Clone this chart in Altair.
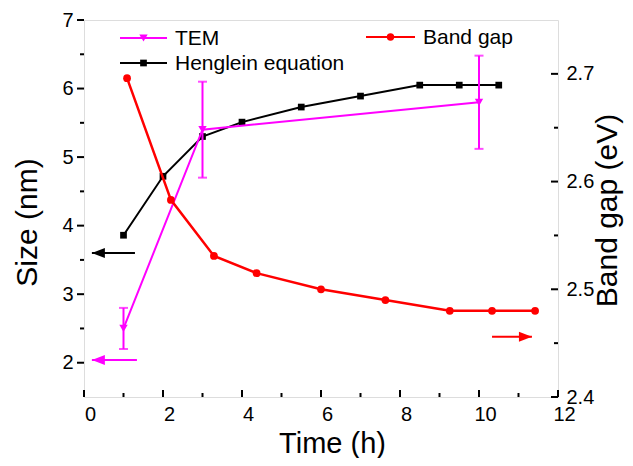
import altair as alt
import pandas as pd

# ---- data ----
tem_x = [1.0, 3.0, 10.0]
tem_y = [2.5, 5.4, 5.8]
tem_err = [0.3, 0.7, 0.68]

hen_x = [1.0, 2.0, 3.0, 4.0, 5.5, 7.0, 8.5, 9.5, 10.5]
hen_y = [3.86, 4.72, 5.30, 5.51, 5.73, 5.89, 6.05, 6.05, 6.05]

bg_x = [1.09, 2.2, 3.29, 4.37, 6.0, 7.63, 9.26, 10.33, 11.42]
bg_y = [2.696, 2.583, 2.531, 2.515, 2.500, 2.490, 2.480, 2.480, 2.480]

# arrows (tail x, tip x, y) in data units
black_arrow = [1.29, 0.2, 3.6]
pink_arrow = [1.34, 0.2, 2.04]
red_arrow = [10.33, 11.34, 2.456]

x_major = [0, 2, 4, 6, 8, 10, 12]
x_minor = [1, 3, 5, 7, 9, 11]
yl_major = [2, 3, 4, 5, 6, 7]
yl_minor = [2.5, 3.5, 4.5, 5.5, 6.5]
yr_major = [2.4, 2.5, 2.6, 2.7]
yr_minor = [2.45, 2.55, 2.65]

W, H = 474, 377
FONT = "Liberation Sans"
MAG = "#ff00ff"
RED = "#ff0000"

xs = alt.Scale(domain=[0, 12], nice=False, zero=False)
yls = alt.Scale(domain=[1.5, 7], nice=False, zero=False)
yrs = alt.Scale(domain=[2.4, 2.75], nice=False, zero=False)

x_axis = alt.Axis(values=x_major, ticks=False, domain=False, grid=False,
                  labelFont=FONT, labelFontSize=20, labelColor="black",
                  labelPadding=7, labelOffset=6, labelFlush=False,
                  title="Time (h)", titleFont=FONT, titleFontSize=29,
                  titleFontWeight="normal", titleColor="black",
                  titleX=248, titleY=55, titleBaseline="alphabetic",
                  titleAlign="center")
yl_axis = alt.Axis(values=yl_major, ticks=False, domain=False, grid=False,
                   labelFont=FONT, labelFontSize=20, labelColor="black",
                   labelPadding=11, labelFlush=False, format="d",
                   title="Size (nm)", titleFont=FONT, titleFontSize=30,
                   titleFontWeight="normal", titleColor="black",
                   titleAngle=270, titleX=-48, titleY=202,
                   titleBaseline="alphabetic", titleAlign="center")
yr_axis = alt.Axis(values=yr_major, ticks=False, domain=False, grid=False,
                   orient="right",
                   labelFont=FONT, labelFontSize=20, labelColor="black",
                   labelPadding=8, labelFlush=False, format=".1f",
                   title="Band gap (eV)", titleFont=FONT, titleFontSize=30,
                   titleFontWeight="normal", titleColor="black",
                   titleAngle=270, titleX=58, titleY=190,
                   titleBaseline="alphabetic", titleAlign="center")

X = lambda f: alt.X(f, type="quantitative", scale=xs, axis=x_axis)
YL = lambda f: alt.Y(f, type="quantitative", scale=yls, axis=yl_axis)
YR = lambda f: alt.Y(f, type="quantitative", scale=yrs, axis=yr_axis)

tem = pd.DataFrame({"x": tem_x, "y": tem_y, "e": tem_err})
tem["lo"] = tem["y"] - tem["e"]
tem["hi"] = tem["y"] + tem["e"]
hen = pd.DataFrame({"x": hen_x, "y": hen_y})
bg = pd.DataFrame({"x": bg_x, "y": bg_y})

# ---- left (size) group ----
hen_line = alt.Chart(hen).mark_line(color="black", strokeWidth=2).encode(x=X("x"), y=YL("y"))
hen_pts = alt.Chart(hen).mark_point(shape="square", filled=True, color="black", size=45, opacity=1).encode(x=X("x"), y=YL("y"))

tem_line = alt.Chart(tem).mark_line(color=MAG, strokeWidth=2).encode(x=X("x"), y=YL("y"))
tem_bar = alt.Chart(tem).mark_rule(color=MAG, strokeWidth=2).encode(x=X("x"), y=YL("lo"), y2="hi")
tem_cap_lo = alt.Chart(tem).mark_tick(color=MAG, orient="horizontal", size=9, thickness=2).encode(x=X("x"), y=YL("lo"))
tem_cap_hi = alt.Chart(tem).mark_tick(color=MAG, orient="horizontal", size=9, thickness=2).encode(x=X("x"), y=YL("hi"))
tem_pts = alt.Chart(tem).mark_point(shape="triangle-down", filled=True, color=MAG, size=70, opacity=1).encode(x=X("x"), y=YL("y"))

head_left = "M0,0L2,-0.77L2,0.77Z"
head_right = "M0,0L-2,-0.77L-2,0.77Z"

def arrow(a, color, Y, head):
    d = pd.DataFrame({"x1": [a[0]], "x2": [a[1]], "y": [a[2]]})
    line = alt.Chart(d).mark_rule(color=color, strokeWidth=2).encode(x=X("x1"), x2="x2", y=Y("y"))
    tip = alt.Chart(d).mark_point(shape=head, filled=True, color=color, size=169, opacity=1).encode(x=X("x2"), y=Y("y"))
    return line + tip

blk_arrow = arrow(black_arrow, "black", YL, head_left)
mag_arrow = arrow(pink_arrow, MAG, YL, head_left)

ylmaj = alt.Chart(pd.DataFrame({"v": yl_major})).mark_rule(color="black", strokeWidth=2).encode(
    y=YL("v"), x=alt.value(-7), x2=alt.value(0))
ylmin = alt.Chart(pd.DataFrame({"v": yl_minor})).mark_rule(color="black", strokeWidth=2).encode(
    y=YL("v"), x=alt.value(-4), x2=alt.value(0))
xmaj = alt.Chart(pd.DataFrame({"v": x_major})).mark_rule(color="black", strokeWidth=2).encode(
    x=X("v"), y=alt.value(H - 7), y2=alt.value(H))
xmin = alt.Chart(pd.DataFrame({"v": x_minor})).mark_rule(color="black", strokeWidth=2).encode(
    x=X("v"), y=alt.value(H - 4), y2=alt.value(H))

# ---- manual legend ----
def legend_item(label, color, shape, size, x0, x1, y):
    d = pd.DataFrame({"t": [label]})
    base = alt.Chart(d)
    ln = base.mark_rule(color=color, strokeWidth=2).encode(x=alt.value(x0), x2=alt.value(x1), y=alt.value(y))
    pt = base.mark_point(shape=shape, filled=True, color=color, size=size, opacity=1).encode(
        x=alt.value((x0 + x1) / 2), y=alt.value(y))
    tx = base.mark_text(font=FONT, fontSize=21, align="left", baseline="middle", color="black").encode(
        x=alt.value(x1 + 8), y=alt.value(y + 1), text="t:N")
    return ln + pt + tx

leg = (legend_item("TEM", MAG, "triangle-down", 70, 36, 83, 18)
       + legend_item("Henglein equation", "black", "square", 45, 36, 83, 43)
       + legend_item("Band gap", RED, "circle", 55, 282, 331, 17))

left = alt.layer(ylmaj, ylmin, xmaj, xmin, hen_line, hen_pts, tem_line, tem_bar,
                 tem_cap_lo, tem_cap_hi, tem_pts, blk_arrow, mag_arrow, leg)

# ---- right (band gap) group ----
bg_line = alt.Chart(bg).mark_line(color=RED, strokeWidth=2.5).encode(x=X("x"), y=YR("y"))
bg_pts = alt.Chart(bg).mark_point(shape="circle", filled=True, color=RED, size=60, opacity=1).encode(x=X("x"), y=YR("y"))
r_arrow = arrow(red_arrow, RED, YR, head_right)
yrmaj = alt.Chart(pd.DataFrame({"v": yr_major})).mark_rule(color="black", strokeWidth=2).encode(
    y=YR("v"), x=alt.value(W - 7), x2=alt.value(W))
yrmin = alt.Chart(pd.DataFrame({"v": yr_minor})).mark_rule(color="black", strokeWidth=2).encode(
    y=YR("v"), x=alt.value(W - 4), x2=alt.value(W))

right = alt.layer(yrmaj, yrmin, bg_line, bg_pts, r_arrow)

chart = alt.layer(left, right).resolve_scale(y="independent").properties(
    width=W, height=H,
    autosize=alt.AutoSizeParams(type="none"),
    padding={"left": 76, "top": 12, "right": 67, "bottom": 61},
).configure_view(stroke="black", strokeWidth=2).configure(background="white")

chart.save("out.html", embed_options={"renderer": "svg", "actions": False})
